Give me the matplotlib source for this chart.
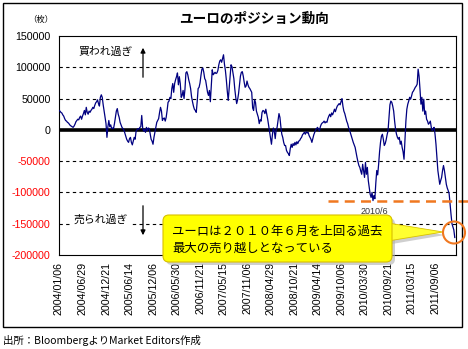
import numpy as np
import matplotlib
matplotlib.use('Agg')
import matplotlib.pyplot as plt
import matplotlib.transforms as mtransforms
from matplotlib.patches import Rectangle, FancyBboxPatch, Polygon, Circle, FancyArrowPatch

plt.rcParams['font.family'] = ['Noto Sans CJK JP', 'DejaVu Sans']

# weekly net position (contracts), from 2004/01/06
values = [
  31000, 30000, 28000, 27000, 24000, 22000, 18000, 15000, 14000, 12000,
  11000, 9000, 7000, 6000, 5000, 4000, 6000, 9000, 13000, 15000,
  17000, 16000, 20000, 22000, 17000,
  22000, 26000, 31000, 24000, 36000, 28000, 25000, 30000, 28000, 31000,
  33000, 36000, 34000, 39000, 43000, 45000, 48000, 42000, 38000, 52000,
  56000, 52000, 40000, 30000, 20000,
  10000, -12000, 5000, 15000, 5000, 8000, 2000, 3000, 2000, 10000,
  20000, 30000, 34000, 25000, 20000, 12000, 8000, 4000, 2000, 0,
  -5000, -10000, -15000, -18000, -20000,
  -14000, -12000, -20000, -24000, -18000, -12000, -15000, -2000, 0, 2000,
  1000, 4000, 5000, 23000, 3000, -2000, 1000, -4000, 4000, -1000,
  3000, 2000, -7000, -15000, -18000,
  -23000, -12000, -4000, 4000, 12000, 15000, 18000, 28000, 36000, 30000,
  15000, 18000, 19000, 14000, 20000, 31000, 44000, 46000, 52000, 50000,
  66000, 74000, 60000, 74000, 80000,
  85000, 91000, 72000, 85000, 74000, 52000, 55000, 63000, 50000, 65000,
  91000, 93000, 88000, 80000, 74000, 66000, 53000, 45000, 38000, 33000,
  31000, 28000, 45000, 66000, 68000,
  75000, 87000, 97000, 99000, 92000, 82000, 79000, 70000, 60000, 55000,
  63000, 45000, 70000, 96000, 88000, 90000, 92000, 90000, 91000, 95000,
  104000, 110000, 112000, 108000, 114000,
  120000, 105000, 95000, 80000, 62000, 47000, 66000, 86000, 104000, 101000,
  92000, 82000, 65000, 52000, 42000, 48000, 58000, 72000, 86000, 92000,
  93000, 86000, 76000, 68000, 70000,
  78000, 72000, 68000, 66000, 63000, 60000, 35000, 31000, 48000, 44000,
  30000, 25000, 20000, 10000, 16000, 14000, 28000, 31000, 30000, 26000,
  33000, 25000, 17000, 7000, -2000,
  -12000, -23000, -8000, 3000, -2000, -14000, 0, 4000, 15000, 26000,
  20000, 5000, -7000, -12000, -20000, -25000, -25000, -33000, -36000, -38000,
  -41000, -30000, -23000, -28000, -22000,
  -25000, -20000, -24000, -19000, -22000, -18000, -17000, -14000, -12000, -8000,
  -6000, -4000, -7000, -3000, -5000, -4000, -9000, -12000, -15000, -20000,
  -14000, -8000, -4000, 0, 2000,
  4000, 1000, -2000, 5000, 9000, 11000, 12000, 14000, 11000, 13000,
  12000, 18000, 22000, 25000, 21000, 27000, 24000, 28000, 33000, 29000,
  34000, 38000, 40000, 42000, 40000,
  45000, 50000, 38000, 30000, 26000, 20000, 14000, 10000, 4000, 0,
  -5000, -10000, -15000, -20000, -24000, -28000, -36000, -44000, -51000, -57000,
  -60000, -66000, -71000, -55000, -66000,
  -76000, -52000, -71000, -60000, -81000, -92000, -103000, -108000, -100000, -113000,
  -105000, -110000, -85000, -65000, -72000, -55000, -35000, -20000, -10000, -7000,
  -15000, -25000, -22000, -16000, -8000,
  -1500, 20000, 40000, 46000, 44000, 38000, 30000, 14000, 1000, -7000,
  -12000, -15000, -12000, -23000, -18000, -28000, -35000, -47000, -18000, 14000,
  33000, 41000, 46000, 52000, 49000,
  54000, 60000, 62000, 65000, 68000, 70000, 73000, 97000, 86000, 65000,
  41000, 52000, 30000, 49000, 25000, 30000, 17000, 14000, 9000, 11000,
  14000, 4000, -1000, 2000, 4000,
  -7000, -23000, -44000, -65000, -76000, -87000, -81000, -76000, -65000, -57000,
  -65000, -76000, -87000, -93000, -97000, -102000, -119000, -135000, -150000, -155000,
  -160000, -172000,
]

tick_labels = ['2004/01/06', '2004/06/29', '2004/12/21', '2005/06/14', '2005/12/06',
               '2006/05/30', '2006/11/21', '2007/05/15', '2007/11/06', '2008/04/29',
               '2008/10/21', '2009/04/14', '2009/10/06', '2010/03/30', '2010/09/21',
               '2011/03/15', '2011/09/06']
tick_step = 25
y_ticks = [150000, 100000, 50000, 0, -50000, -100000, -150000, -200000]

W, H = 468, 349
fig = plt.figure(figsize=(W / 100, H / 100), dpi=100)
# pixel coords, origin top-left
pix = mtransforms.Affine2D().scale(1 / W, -1 / H).translate(0, 1) + fig.transFigure

ax = fig.add_axes([59 / W, 1 - 255 / H, (456 - 59) / W, (255 - 36) / H])
x = np.arange(len(values))

for v in y_ticks:
  if v in (0, 150000, -200000):
    continue
  ax.axhline(v, color='black', lw=0.8, ls=(0, (3, 3)), zorder=1)
ax.axhline(0, color='black', lw=2.6, zorder=2)
ax.plot(x, values, color='#000080', lw=0.9, zorder=3)

ax.set_xlim(0, 422.3)
ax.set_ylim(-200000, 150000)
ax.set_yticks(y_ticks)
ax.set_yticklabels([str(v) for v in y_ticks], fontfamily='Liberation Sans', fontsize=7.7)
for lab, v in zip(ax.get_yticklabels(), y_ticks):
  lab.set_color('red' if v < 0 else 'black')
ax.set_xticks(np.arange(len(tick_labels)) * tick_step)
ax.set_xticklabels(tick_labels, rotation=90, fontfamily='Liberation Sans', fontsize=7.7)
ax.tick_params(length=0)
ax.tick_params(axis='y', pad=6)
ax.tick_params(axis='x', pad=5)
for s in ax.spines.values():
  s.set_linewidth(0.8)

# 2010/6 low reference line
low2010 = min(values[300:350])
ax.plot([286, 436], [low2010, low2010], color='#f07820', lw=1.8,
        ls=(0, (4, 2.5)), clip_on=False, zorder=4)

# outer frame
fig.add_artist(Rectangle((3, 3), 459, 324, transform=pix, fill=False, ec='black', lw=1))

fig.text(254, 19, 'ユーロのポジション動向', transform=pix, ha='center', va='center',
         fontsize=9.8, fontweight='bold')
fig.text(41, 19, '（枚）', transform=pix, ha='center', va='center', fontsize=6)

fig.text(106, 52, '買われ過ぎ', transform=pix, ha='center', va='center', fontsize=7.8)
fig.text(101, 220, '売られ過ぎ', transform=pix, ha='center', va='center', fontsize=7.8,
         bbox=dict(fc='white', ec='none', pad=1))
fig.add_artist(FancyArrowPatch((143, 80), (143, 45), transform=pix, arrowstyle='-|>',
                               mutation_scale=7, color='black', lw=0.9))
fig.add_artist(FancyArrowPatch((143, 203), (143, 238), transform=pix, arrowstyle='-|>',
                               mutation_scale=7, color='black', lw=0.9))

fig.text(374, 211, '2010/6', transform=pix, ha='center', va='center', fontsize=6.5,
         fontfamily='Liberation Sans', color='#333333')

# callout
fig.add_artist(FancyBboxPatch((166, 218), 229, 47, transform=pix,
                              boxstyle='round,pad=0,rounding_size=6',
                              fc='#b0b0b0', ec='none', alpha=0.6))
fig.add_artist(Polygon([(392, 226), (445, 235), (392, 244)], closed=True, transform=pix,
                       fc='#b0b0b0', ec='none', alpha=0.6))
fig.add_artist(Polygon([(388, 223), (443, 232), (388, 241)], closed=True, transform=pix,
                       fc='#ffff30', ec='#d8c000', lw=0.6))
fig.add_artist(FancyBboxPatch((163, 215), 229, 47, transform=pix,
                              boxstyle='round,pad=0,rounding_size=6',
                              fc='#ffff00', ec='#d8c000', lw=0.8))
fig.text(172, 231, 'ユーロは２０１０年６月を上回る過去', transform=pix, ha='left',
         va='center', fontsize=8.9)
fig.text(172, 248, '最大の売り越しとなっている', transform=pix, ha='left',
         va='center', fontsize=8.9)

fig.add_artist(Circle((454, 232.5), 11, transform=pix, fill=False, ec='#f07820', lw=1.5))

fig.text(3, 340, '出所：BloombergよりMarket Editors作成', transform=pix, ha='left',
         va='center', fontsize=7.5)

fig.savefig('out.png', dpi=100)
